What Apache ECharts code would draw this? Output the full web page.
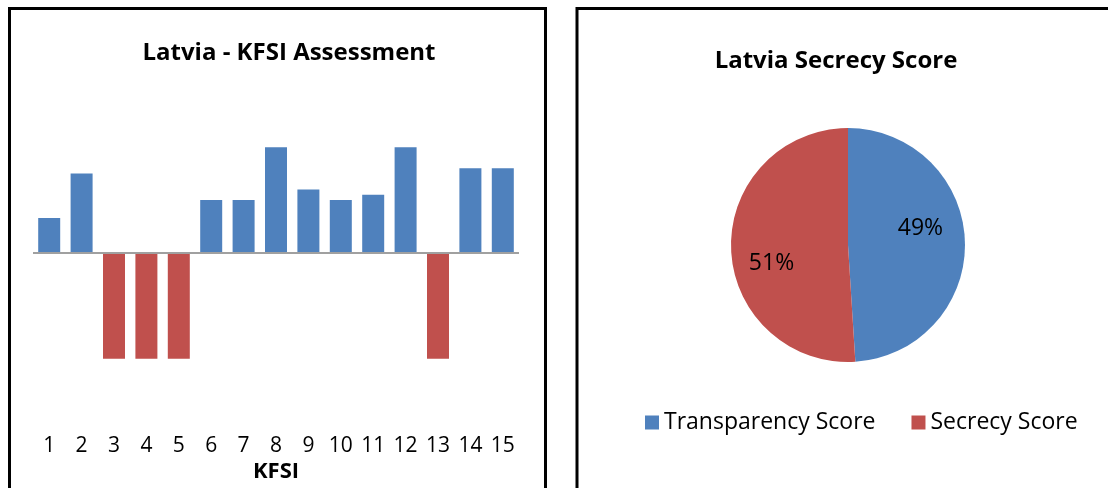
<!DOCTYPE html>
<html>
<head>
<meta charset="utf-8">
<script src="https://cdn.jsdelivr.net/npm/echarts@6/dist/echarts.min.js"></script>
<style>
  html, body { margin: 0; padding: 0; background: #fff; }
  #main { width: 1108px; height: 488px; }
</style>
</head>
<body>
<div id="main"></div>
<script>
// KFSI assessment, one value per indicator
var kfsiCategories = ['1', '2', '3', '4', '5', '6', '7', '8', '9', '10', '11', '12', '13', '14', '15'];
var kfsiValues = [0.33, 0.75, -1, -1, -1, 0.5, 0.5, 1, 0.6, 0.5, 0.55, 1, -1, 0.8, 0.8];

// secrecy pie
var pieNames = ['Transparency Score', 'Secrecy Score'];
var pieValues = [49, 51];

var blue = '#4f81bd';
var red = '#c0504d';
var font = 'Open Sans';

var myChart = echarts.init(document.getElementById('main'));

var pieData = [];
for (var i = 0; i < pieNames.length; i++) {
    pieData.push({ name: pieNames[i], value: pieValues[i] });
}

// nudge pie labels a little, like the office chart does
var labelShift = [[11, -15], [-15, 17]];

var option = {
    animation: false,
    textStyle: { fontFamily: font },
    title: [
        {
            text: 'Latvia - KFSI Assessment',
            left: 284, top: 36, textAlign: 'center',
            textStyle: { fontFamily: font, fontSize: 24, fontWeight: 'bold', color: '#000' }
        },
        {
            text: 'Latvia Secrecy Score',
            left: 831, top: 44, textAlign: 'center',
            textStyle: { fontFamily: font, fontSize: 24, fontWeight: 'bold', color: '#000' }
        }
    ],
    legend: {
        data: pieNames,
        left: 645, top: 411, padding: 0,
        itemWidth: 14, itemHeight: 14, itemGap: 36,
        icon: 'rect',
        textStyle: { fontFamily: font, fontSize: 23, color: '#000' }
    },
    grid: { left: 33, top: 126, width: 486, height: 297 },
    xAxis: {
        type: 'category',
        data: kfsiCategories,
        name: 'KFSI',
        nameLocation: 'middle',
        nameGap: 36,
        nameTextStyle: { fontFamily: font, fontSize: 22, fontWeight: 'bold', color: '#000' },
        axisLine: { show: false },
        axisTick: { show: false },
        axisLabel: { interval: 0, hideOverlap: false, margin: 13, fontFamily: font, fontSize: 21, color: '#000' }
    },
    yAxis: {
        type: 'value',
        min: -1.6, max: 1.2,
        show: false,
        splitLine: { show: false }
    },
    series: [
        {
            type: 'bar',
            data: kfsiValues,
            barWidth: 22,
            itemStyle: {
                color: function (p) { return p.value < 0 ? red : blue; }
            },
            markLine: {
                silent: true,
                symbol: 'none',
                label: { show: false },
                lineStyle: { color: '#a0a0a0', width: 2, type: 'solid' },
                data: [{ yAxis: 0 }]
            }
        },
        {
            type: 'pie',
            center: [848, 245],
            radius: 117,
            startAngle: 90,
            clockwise: true,
            data: pieData,
            color: [blue, red],
            label: {
                position: 'inside',
                formatter: '{d}%',
                fontFamily: font, fontSize: 23, color: '#000'
            },
            labelLine: { show: false },
            labelLayout: function (params) {
                var s = labelShift[params.dataIndex];
                return { dx: s[0], dy: s[1] };
            }
        }
    ],
    graphic: [
        {
            type: 'rect',
            shape: { x: 9.5, y: 8.5, width: 536, height: 520 },
            style: { fill: null, stroke: '#000', lineWidth: 3 }
        },
        {
            type: 'rect',
            shape: { x: 577, y: 8.5, width: 560, height: 520 },
            style: { fill: null, stroke: '#000', lineWidth: 3 }
        }
    ]
};

myChart.setOption(option);
</script>
</body>
</html>
